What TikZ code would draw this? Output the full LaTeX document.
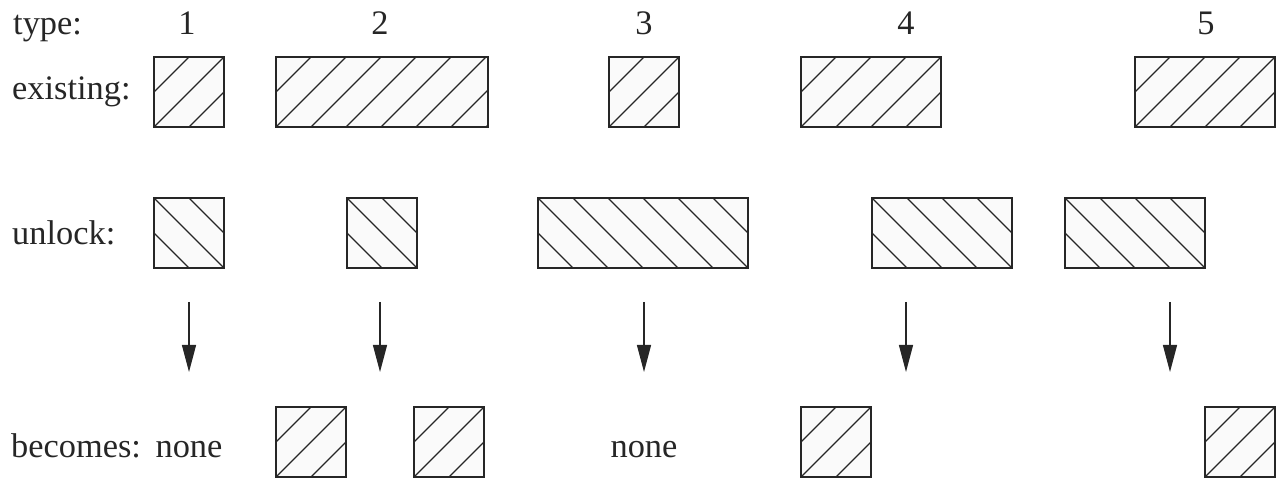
\documentclass[tikz,border=0pt]{standalone}
\usepackage{fontspec}
\setmainfont{Liberation Serif}
\usetikzlibrary{arrows.meta,fit}
\tikzset{
  boxfill/.style={fill=black!2},
  hatch/.style={draw=black!85, line width=1.3bp},
  boxline/.style={draw=black!85, line width=1.5bp, inner sep=0pt},
  lbl/.style={font=\fontsize{34.5}{40}\selectfont, inner sep=0pt, text=black!85},
  arr/.style={draw=black!85, line width=1.3bp, -{Triangle[length=27bp,width=14bp]}},
}
% #1 name, #2 x1, #3 y1 (top), #4 x2, #5 y2 (bottom), #6 1 = '/' hatching, 0 = '\' hatching
\newcommand\hatchbox[6]{%
  \fill[boxfill] (#2,#3) rectangle (#4,#5);
  \begin{scope}
    \clip (#2,#3) rectangle (#4,#5);
    \ifnum#6=1
      \foreach \k in {0,...,11} \draw[hatch] (#2+35*\k-105,#5) -- ++(100,-100);
    \else
      \foreach \k in {0,...,11} \draw[hatch] (#2+35*\k-105,#3) -- ++(100,100);
    \fi
  \end{scope}
  \node[boxline, fit={(#2,#3) (#4,#5)}] (#1) {};
}
\begin{document}
\begin{tikzpicture}[x=1bp, y=-1bp]
\useasboundingbox (0,0) rectangle (1278,481);

% row labels
\node[lbl, anchor=base west] (ltype) at (13,35) {type:};
\node[lbl, anchor=base west] (lexist) at (12,100) {existing:};
\node[lbl, anchor=base west] (lunlock) at (12,245) {unlock:};
\node[lbl, anchor=base west] (lbecomes) at (11,457) {becomes:};

% type numbers
\node[lbl, anchor=base] (t1) at (187,35) {1};
\node[lbl, anchor=base] (t2) at (380,35) {2};
\node[lbl, anchor=base] (t3) at (644,35) {3};
\node[lbl, anchor=base] (t4) at (906,35) {4};
\node[lbl, anchor=base] (t5) at (1206,35) {5};

% existing row
\hatchbox{e1}{154}{57}{224}{127}{1}
\hatchbox{e2}{276}{57}{488}{127}{1}
\hatchbox{e3}{609}{57}{679}{127}{1}
\hatchbox{e4}{801}{57}{941}{127}{1}
\hatchbox{e5}{1135}{57}{1275}{127}{1}

% unlock row
\hatchbox{u1}{154}{198}{224}{268}{0}
\hatchbox{u2}{347}{198}{417}{268}{0}
\hatchbox{u3}{538}{198}{748}{268}{0}
\hatchbox{u4}{872}{198}{1012}{268}{0}
\hatchbox{u5}{1065}{198}{1205}{268}{0}

% arrows
\foreach \i/\x in {1/189, 2/380, 3/644, 4/906, 5/1170} {
  \coordinate (as\i) at (\x,302);
  \coordinate (ae\i) at (\x,372);
  \draw[arr] (as\i) -- (ae\i);
}

% becomes row
\node[lbl, anchor=base] (n1) at (189,457) {none};
\hatchbox{b2a}{276}{407}{346}{477}{1}
\hatchbox{b2b}{414}{407}{484}{477}{1}
\node[lbl, anchor=base] (n3) at (644,457) {none};
\hatchbox{b4}{801}{407}{871}{477}{1}
\hatchbox{b5}{1205}{407}{1275}{477}{1}
\end{tikzpicture}
\end{document}
